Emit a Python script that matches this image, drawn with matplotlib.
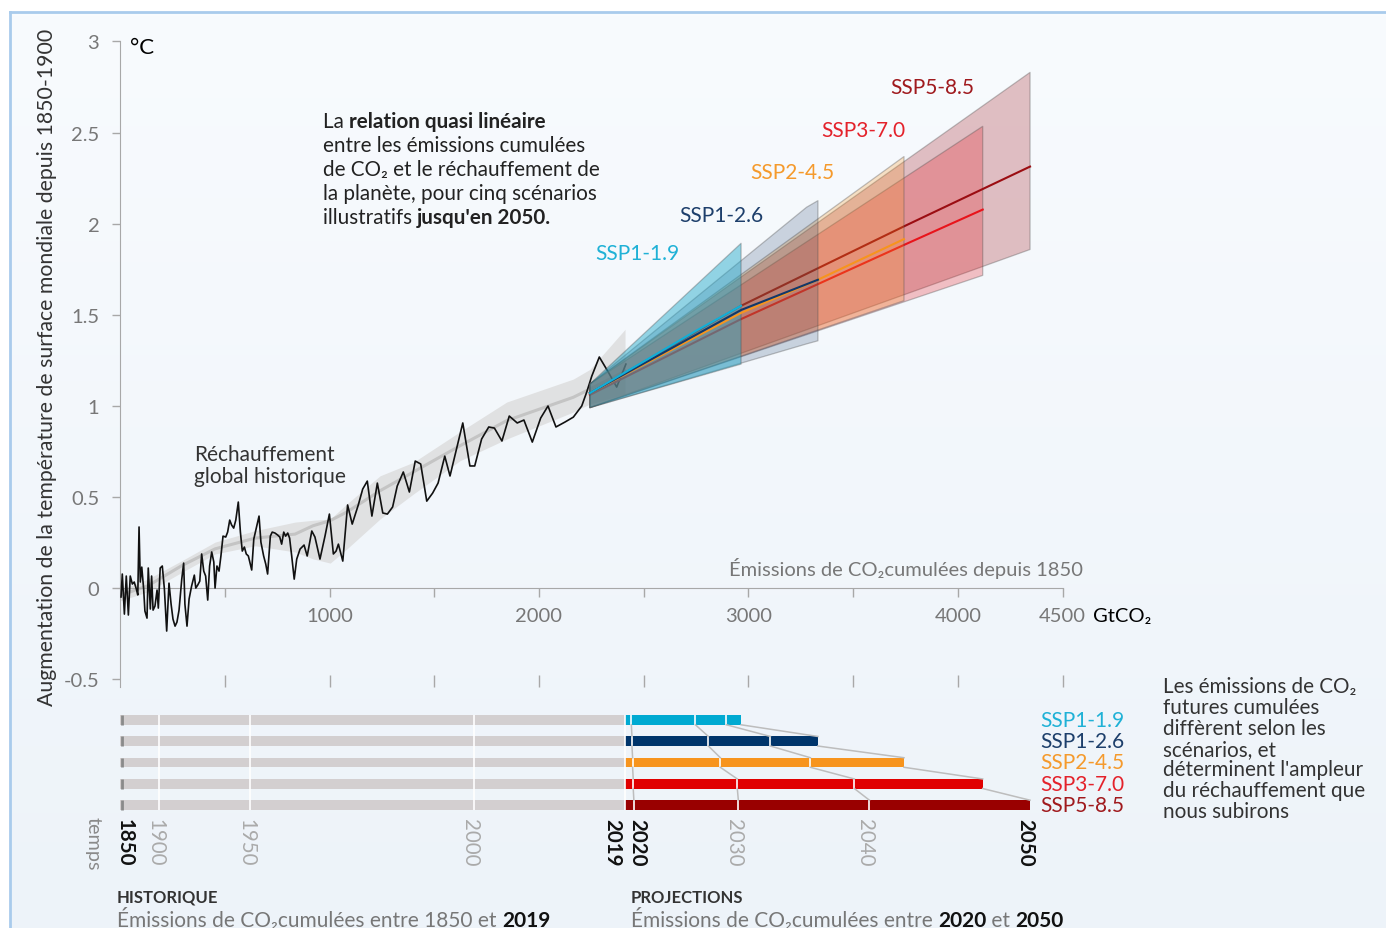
import numpy as np
import matplotlib
matplotlib.use("Agg")
import matplotlib.pyplot as plt
from matplotlib.colors import LinearSegmentedColormap
from matplotlib.transforms import ScaledTranslation

plt.rcParams["font.family"] = ["Lato", "DejaVu Sans"]

W, H = 1386, 929

# --- historical: cumulative CO2 since 1850 (GtCO2) vs warming (degC) ---
hist_cum = [4, 10, 20, 29, 39, 48, 58, 67, 77, 84, 90, 96, 103, 112, 118, 128,
            134, 144, 150, 157, 166, 176, 182, 191, 201, 211, 222, 233, 243,
            252, 262, 271, 281, 294, 303, 309, 319, 329, 341, 354, 361, 370,
            380, 389, 399, 408, 418, 427, 437, 447, 453, 462, 472, 481, 491,
            504, 513, 523, 532, 542, 552, 564, 574, 583, 593, 602, 612, 628,
            638, 650, 663, 672, 685, 695, 704, 717, 726, 739, 752, 762, 771,
            781, 790, 800, 809, 819, 831, 843, 859, 878, 893, 915, 930, 954,
            978, 999, 1018, 1031, 1042, 1063, 1086, 1108, 1137, 1158, 1180,
            1202, 1228, 1254, 1276, 1301, 1323, 1352, 1381, 1409, 1435, 1464,
            1492, 1518, 1550, 1575, 1636, 1670, 1693, 1726, 1760, 1787, 1823,
            1858, 1896, 1928, 1968, 2008, 2043, 2081, 2124, 2164, 2204, 2228,
            2252, 2288, 2331, 2371, 2415]
hist_temp = [-0.049, 0.077, -0.143, 0.066, -0.148, 0.066, 0.022, 0.033, -0.005,
             -0.038, 0.335, 0.033, 0.115, -0.005, -0.126, -0.165, 0.110,
             -0.115, 0.066, -0.121, -0.099, -0.011, -0.110, 0.110, 0.121,
             -0.005, -0.236, 0.027, -0.088, -0.170, -0.209, -0.187, -0.121,
             0.049, 0.137, -0.088, -0.209, -0.060, 0.011, 0.071, 0.0, 0.016,
             0.038, 0.187, 0.093, 0.066, -0.066, 0.121, 0.198, 0.143, 0.0,
             0.121, 0.093, 0.176, 0.285, 0.280, 0.307, 0.373, 0.346, 0.329,
             0.373, 0.472, 0.307, 0.203, 0.225, 0.187, 0.176, 0.099, 0.269,
             0.329, 0.395, 0.252, 0.176, 0.132, 0.077, 0.285, 0.307, 0.302,
             0.291, 0.280, 0.241, 0.307, 0.285, 0.302, 0.274, 0.176, 0.049,
             0.159, 0.214, 0.236, 0.176, 0.313, 0.280, 0.159, 0.285, 0.406,
             0.187, 0.203, 0.241, 0.148, 0.456, 0.351, 0.456, 0.543, 0.587,
             0.395, 0.576, 0.412, 0.406, 0.445, 0.560, 0.637, 0.527, 0.697,
             0.681, 0.477, 0.521, 0.576, 0.724, 0.615, 0.906, 0.670, 0.670,
             0.818, 0.884, 0.878, 0.807, 0.944, 0.906, 0.922, 0.801, 0.933,
             0.999, 0.884, 0.911, 0.938, 0.999, 1.076, 1.163, 1.268, 1.185,
             1.103, 1.229]

# smoothed historical warming and its likely range
smooth_cum = [0, 133, 294, 453, 644, 835, 921, 1003, 1082, 1241, 1400, 1623,
              1846, 2164, 2243, 2411]
smooth_mid = [-0.04, 0.013, 0.123, 0.215, 0.274, 0.296, 0.342, 0.37, 0.417,
              0.534, 0.637, 0.781, 0.919, 1.047, 1.092, 1.19]
smooth_low = [-0.07, -0.02, 0.086, 0.187, 0.232, 0.198, 0.16, 0.137, 0.214,
              0.379, 0.516, 0.699, 0.818, 0.966, 1.01, 1.065]
smooth_high = [-0.01, 0.05, 0.150, 0.252, 0.315, 0.362, 0.372, 0.379, 0.461,
               0.616, 0.690, 0.858, 1.021, 1.147, 1.20, 1.42]

# --- projections to 2050 ---
ssp_names = ["SSP1-1.9", "SSP1-2.6", "SSP2-4.5", "SSP3-7.0", "SSP5-8.5"]

ssp119_band_cum = [2243, 2965]
ssp119_low = [0.99, 1.229]
ssp119_high = [1.12, 1.892]
ssp119_cum = [2243, 2747, 2965]
ssp119_mid = [1.07, 1.41, 1.549]

ssp126_band_cum = [2243, 3278, 3332]
ssp126_low = [0.99, 1.34, 1.357]
ssp126_high = [1.12, 2.09, 2.126]
ssp126_cum = [2243, 2965, 3332]
ssp126_mid = [1.07, 1.526, 1.692]

ssp245_band_cum = [2243, 3743]
ssp245_low = [0.99, 1.577]
ssp245_high = [1.12, 2.368]
ssp245_cum = [2243, 2965, 3332, 3743]
ssp245_mid = [1.07, 1.51, 1.692, 1.915]

ssp370_band_cum = [2243, 4119]
ssp370_low = [0.99, 1.716]
ssp370_high = [1.12, 2.534]
ssp370_cum = [2243, 2965, 3332, 3743, 4119]
ssp370_mid = [1.06, 1.476, 1.668, 1.883, 2.077]

ssp585_band_cum = [2243, 4345]
ssp585_low = [0.99, 1.858]
ssp585_high = [1.12, 2.830]
ssp585_cum = [2243, 2965, 3332, 3743, 4345]
ssp585_mid = [1.07, 1.549, 1.755, 1.985, 2.313]

# --- cumulative emissions bars (GtCO2 reached at given years) ---
hist_total = 2410
hist_years = ["1900", "1950", "2000"]
hist_years_cum = [186, 621, 1691]
cum_2020 = [2441, 2444, 2447, 2450, 2453]
cum_2030 = [2747, 2809, 2866, 2947, 2952]
cum_2040 = [2895, 3105, 3296, 3506, 3578]
cum_2050 = [2965, 3332, 3743, 4119, 4345]

line_colors = ["#12afd8", "#12386a", "#f7941d", "#e8141b", "#9b0d12"]
text_colors = ["#1fb1d6", "#1d3f6b", "#f59a2c", "#e4222b", "#a01a1e"]
bar_colors = ["#00aad2", "#00356b", "#f7941d", "#e00000", "#990000"]
band_fill = ["#1aa6c8", "#1a3a66", "#f7941d", "#e8141b", "#9b0d12"]


def fx(px):
    return px / W


def fy(py):
    return 1 - py / H


fig = plt.figure(figsize=(W / 100, H / 100), dpi=100)
fig.patch.set_facecolor("white")
renderer = fig.canvas.get_renderer()

# background panel
bg = fig.add_axes([fx(10), 0, 1 - fx(10), fy(13)], zorder=-10)
grad = np.linspace(0, 1, 256).reshape(-1, 1)
bg.imshow(grad, aspect="auto", extent=[0, 1, 0, 1],
          cmap=LinearSegmentedColormap.from_list("bg", ["#f8fbfe", "#edf3f9"]))
bg.set_xticks([])
bg.set_yticks([])
for side in ["right", "bottom"]:
    bg.spines[side].set_visible(False)
for side in ["left", "top"]:
    bg.spines[side].set_color("#a9cbec")
    bg.spines[side].set_linewidth(2)

# --- main chart ---
ax = fig.add_axes([fx(120.2), fy(688), fx(1062.5) - fx(120.2), fy(42.4) - fy(688)])
ax.set_xlim(0, 4500)
ax.set_ylim(-0.543, 3.0)
ax.patch.set_alpha(0)
axis_grey = "#a8a8a8"
for side in ["top", "right"]:
    ax.spines[side].set_visible(False)
ax.spines["left"].set_color(axis_grey)
ax.spines["bottom"].set_color(axis_grey)
ax.spines["bottom"].set_position(("data", 0))
ax.spines["bottom"].set_bounds(0, 4500)

yticks = [-0.5, 0, 0.5, 1, 1.5, 2, 2.5, 3]
ax.set_yticks(yticks)
ax.set_yticklabels(["-0.5", "0", "0.5", "1", "1.5", "2", "2.5", "3"])
xticks = [500, 1000, 1500, 2000, 2500, 3000, 3500, 4000, 4500]
ax.set_xticks(xticks)
ax.set_xticklabels(["", "1000", "", "2000", "", "3000", "", "4000", "4500"])
ax.tick_params(axis="y", direction="out", length=6, width=1, color=axis_grey,
               labelcolor="#777777", labelsize=14.5, pad=9)
ax.tick_params(axis="x", direction="out", length=6.5, width=1, color=axis_grey,
               labelcolor="#777777", labelsize=14.5, pad=7.2)

sec = ax.secondary_xaxis("bottom")
sec.set_xticks(xticks)
sec.set_xticklabels([])
sec.tick_params(direction="in", length=8.6, width=1, color=axis_grey)
sec.spines["bottom"].set_visible(False)

# historical
ax.fill_between(smooth_cum, smooth_low, smooth_high, color="#dcdcdc",
                alpha=0.8, lw=0, zorder=1)
ax.plot(smooth_cum, smooth_mid, color="#c4c4c4", lw=2.2, zorder=2)
ax.plot(hist_cum, hist_temp, color="#111111", lw=1.2, zorder=3)

# projections
bands = [(ssp585_band_cum, ssp585_low, ssp585_high, 0.25),
         (ssp370_band_cum, ssp370_low, ssp370_high, 0.25),
         (ssp245_band_cum, ssp245_low, ssp245_high, 0.25),
         (ssp126_band_cum, ssp126_low, ssp126_high, 0.2),
         (ssp119_band_cum, ssp119_low, ssp119_high, 0.45)]
lines = [(ssp585_cum, ssp585_mid), (ssp370_cum, ssp370_mid),
         (ssp245_cum, ssp245_mid), (ssp126_cum, ssp126_mid),
         (ssp119_cum, ssp119_mid)]
band_colors = band_fill[::-1]
curve_colors = line_colors[::-1]
z = 4
for k, (bx, lo, hi, a) in enumerate(bands):
    ax.fill_between(bx, lo, hi, facecolor=band_colors[k], alpha=a,
                    edgecolor="none", zorder=z)
    ax.fill_between(bx, lo, hi, facecolor="none",
                    edgecolor=(0.3, 0.3, 0.3, 0.35), lw=0.9, zorder=z)
    z += 1
    if k == 1:
        for j in (0, 1):
            ax.plot(lines[j][0], lines[j][1], color=curve_colors[j], lw=1.5, zorder=z)
        z += 1
for j in (2, 3, 4):
    ax.plot(lines[j][0], lines[j][1], color=curve_colors[j], lw=1.5, zorder=z)

ssp_label_pos = [(2267, 1.839), (2669, 2.047), (3008, 2.283), (3347, 2.514), (3676, 2.750)]
for name, (lx, ly), c in zip(ssp_names, ssp_label_pos, text_colors):
    ax.text(lx, ly, name, color=c, fontsize=15, ha="left", va="center")

# texts on the chart
fig.text(fx(130), fy(47.5), "°C", fontsize=16, color="black", va="center")
fig.text(fx(1093), fy(616), "GtCO₂", fontsize=14.5, color="black", va="center")
fig.text(fx(1083), fy(569), "Émissions de CO₂cumulées depuis 1850",
         fontsize=14.5, color="#777777", ha="right", va="center")
fig.text(fx(47), fy(367), "Augmentation de la température de surface mondiale depuis 1850-1900",
         rotation=90, fontsize=15.3, color="#333333", ha="center", va="center")
fig.text(fx(194), fy(455), "Réchauffement", fontsize=15, color="#333333", va="center")
fig.text(fx(194), fy(477), "global historique", fontsize=15, color="#333333", va="center")


def rich_line(x, y, parts, size):
    # y is the visual centre of the line; text sits on a shared baseline
    cur = fx(x)
    base = fy(y + 0.37 * size * 100 / 72)
    for text, bold, color in parts:
        t = fig.text(cur, base, text, fontsize=size,
                     fontweight="bold" if bold else "normal",
                     color=color, va="baseline", ha="left")
        cur = t.get_window_extent(renderer).x1 / W


dark = "#222222"
note_lines = [[("La ", False, dark), ("relation quasi linéaire", True, dark)],
              [("entre les émissions cumulées", False, dark)],
              [("de CO₂ et le réchauffement de", False, dark)],
              [("la planète, pour cinq scénarios", False, dark)],
              [("illustratifs ", False, dark), ("jusqu'en 2050.", True, dark)]]
for i, parts in enumerate(note_lines):
    rich_line(323, 120 + 24 * i, parts, 14.9)

# --- bottom bars ---
axb = fig.add_axes([fx(120.2), fy(871), fx(1062.5) - fx(120.2), fy(701) - fy(871)])
axb.set_xlim(0, 4500)
axb.set_ylim(7.059, -0.941)
axb.axis("off")
rows = np.arange(5)
bh = 0.45
axb.barh(rows, hist_total, left=0, height=bh, color="#d3cfd0", zorder=1)
axb.barh(rows, np.array(cum_2050) - hist_total, left=hist_total, height=bh,
         color=bar_colors, zorder=1)
axb.vlines([8] * 5, rows - bh / 2, rows + bh / 2, color="#8a8a8a", lw=2, zorder=2)
axb.vlines(hist_years_cum + [hist_total], -bh / 2, 4 + bh / 2, color="white",
           lw=1.2, zorder=2)
for marks in (cum_2020, cum_2030, cum_2040):
    axb.vlines(marks, rows - bh / 2, rows + bh / 2, color="white", lw=1.2, zorder=2)
for marks in (cum_2020, cum_2030, cum_2040, cum_2050):
    for i in range(4):
        axb.plot([marks[i], marks[i + 1]], [i + bh / 2, i + 1 - bh / 2],
                 color="#bdbdbd", lw=1.1, zorder=2)

for i, name in enumerate(ssp_names):
    axb.text(4392, i, name, color=text_colors[i], fontsize=15, ha="left", va="center")

# (label, position, bold, alignment, pixel nudge)
year_labels = [("1850", 0, True, "center", 4),
               (hist_years[0], hist_years_cum[0], False, "center", -4),
               (hist_years[1], hist_years_cum[1], False, "center", -4),
               (hist_years[2], hist_years_cum[2], False, "center", -4),
               ("2019", hist_total, True, "right", -3),
               ("2020", cum_2020[-1], True, "center", 3),
               ("2030", cum_2030[-1], False, "center", -4),
               ("2040", cum_2040[-1], False, "center", -4),
               ("2050", cum_2050[-1], True, "center", -5)]
for txt, xv, bold, ha, nudge in year_labels:
    tr = axb.transData + ScaledTranslation(nudge / 100, 0, fig.dpi_scale_trans)
    axb.text(xv, 4.61, txt, rotation=270, ha=ha, va="top", fontsize=14.8,
             fontweight="bold" if bold else "normal",
             color="#111111" if bold else "#aaaaaa", transform=tr)
fig.text(fx(93), fy(817), "temps", rotation=270, ha="center", va="top",
         fontsize=14.3, color="#8a8a8a")

# right explanation
right_lines = ["Les émissions de CO₂", "futures cumulées", "diffèrent selon les",
               "scénarios, et", "déterminent l'ampleur", "du réchauffement que",
               "nous subirons"]
for i, s in enumerate(right_lines):
    fig.text(fx(1163), fy(687.5 + 20.7 * i), s, fontsize=14.9, color="#333333",
             va="center", ha="left")

# bottom captions
grey = "#777777"
fig.text(fx(117), fy(898), "HISTORIQUE", fontsize=12, fontweight="bold",
         color="#333333", va="center")
fig.text(fx(631), fy(898), "PROJECTIONS", fontsize=12, fontweight="bold",
         color="#333333", va="center")
rich_line(117, 919, [("Émissions de CO₂cumulées entre 1850 et ", False, grey),
                     ("2019", True, "#111111")], 15)
rich_line(631, 919, [("Émissions de CO₂cumulées entre ", False, grey),
                     ("2020", True, "#111111"), (" et ", False, grey),
                     ("2050", True, "#111111")], 15)

fig.savefig("out.png", dpi=100)
